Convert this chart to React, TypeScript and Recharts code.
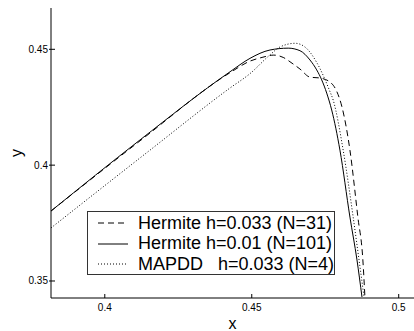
import React from 'react';
import { LineChart, Line, XAxis, YAxis } from 'recharts';

// Hermite h=0.01 (N=101) — solid
const fineX = [0.3817, 0.412, 0.4426, 0.4494, 0.4562, 0.4624, 0.4664, 0.4698, 0.4721, 0.4738, 0.4755, 0.4772, 0.48, 0.4834, 0.4858, 0.4875];
const fineY = [0.3802, 0.4109, 0.4403, 0.4461, 0.4497, 0.4505, 0.4494, 0.4454, 0.4411, 0.4368, 0.4311, 0.4238, 0.4065, 0.3776, 0.3591, 0.3431];

// Hermite h=0.033 (N=31) — dashed
const coarseX = [0.3817, 0.412, 0.4426, 0.4494, 0.4535, 0.4575, 0.4607, 0.4637, 0.4664, 0.4698, 0.4732, 0.4766, 0.479, 0.4807, 0.4834, 0.4861, 0.4878, 0.4885];
const coarseY = [0.3802, 0.4105, 0.4399, 0.4449, 0.4465, 0.4475, 0.4465, 0.444, 0.4415, 0.438, 0.4376, 0.4359, 0.4316, 0.4251, 0.4065, 0.3776, 0.3591, 0.3431];

// MAPDD h=0.033 (N=4) — dotted
const mapddX = [0.3817, 0.4154, 0.4426, 0.4494, 0.4562, 0.4596, 0.4648, 0.4681, 0.4722, 0.4764, 0.4777, 0.4811, 0.4845, 0.4865, 0.4882];
const mapddY = [0.3729, 0.4065, 0.4333, 0.4395, 0.4476, 0.451, 0.4526, 0.451, 0.4441, 0.4324, 0.4281, 0.4065, 0.3776, 0.3591, 0.3431];

const xTicks = [0.4, 0.45, 0.5];
const yTicks = [0.35, 0.4, 0.45];

const seriesNames = ['Hermite h=0.033 (N=31)', 'Hermite h=0.01 (N=101)', 'MAPDD   h=0.033 (N=4)'];
const dashes = ['6 4', undefined, '1 2'];

const zip = (xs: number[], ys: number[]) => xs.map((x, i) => ({ x, y: ys[i] }));
const coarseData = zip(coarseX, coarseY);
const fineData = zip(fineX, fineY);
const mapddData = zip(mapddX, mapddY);

const FONT = '"Liberation Sans", Arial, Helvetica, sans-serif';

const BottomTick = (props: any) => {
  const { x, y, payload } = props;
  return (
    <g>
      <line x1={x} x2={x} y1={y} y2={y - 4} stroke="#000" />
      <text x={x} y={y + 13} textAnchor="middle" fontSize={10} fontFamily={FONT} fill="#000">
        {payload.value}
      </text>
    </g>
  );
};

const TopTick = (props: any) => {
  const { x, y } = props;
  return <line x1={x} x2={x} y1={y} y2={y + 4} stroke="#000" />;
};

const LeftTick = (props: any) => {
  const { x, y, payload } = props;
  return (
    <g>
      <line x1={x - 2} x2={x + 4} y1={y} y2={y} stroke="#000" />
      <text x={x - 3} y={y} dy={3.5} textAnchor="end" fontSize={10} fontFamily={FONT} fill="#000">
        {payload.value}
      </text>
    </g>
  );
};

// legend box drawn over the plot, like the original's inset legend
const LegendBox = () => (
  <div
    style={{
      position: 'absolute',
      left: 87,
      top: 211,
      width: 246,
      height: 62,
      border: '1px solid #333',
      background: '#fff',
      fontFamily: FONT,
      fontSize: 18,
      color: '#000',
    }}
  >
    {seriesNames.map((name, i) => (
      <div key={name} style={{ display: 'flex', alignItems: 'center', height: 20.5, marginTop: i === 0 ? 1 : 0 }}>
        <svg width={50} height={20} style={{ flex: 'none' }}>
          <line x1={10} x2={40} y1={10} y2={10} stroke="#000" strokeWidth={1} strokeDasharray={dashes[i]} />
        </svg>
        <span style={{ whiteSpace: 'pre' }}>{name}</span>
      </div>
    ))}
  </div>
);

export default function App() {
  return (
    <div style={{ position: 'absolute', left: 0, top: 0, width: 414, height: 331, background: '#fff' }}>
      <LineChart width={414} height={331} margin={{ top: 8, right: 0, bottom: 0, left: 0 }}>
        <XAxis
          dataKey="x"
          type="number"
          domain={[0.3817, 0.5052]}
          allowDataOverflow
          ticks={xTicks}
          tick={<BottomTick />}
          tickLine={false}
          tickSize={0}
          tickMargin={0}
          height={33}
          axisLine={{ stroke: '#000' }}
          label={{ value: 'x', position: 'insideBottom', offset: 2, fontSize: 16, fontFamily: FONT, fill: '#000' }}
        />
        <XAxis
          xAxisId="top"
          dataKey="x"
          type="number"
          orientation="top"
          domain={[0.3817, 0.5052]}
          allowDataOverflow
          ticks={xTicks}
          tick={<TopTick />}
          tickLine={false}
          tickSize={0}
          tickMargin={0}
          height={0}
          axisLine={{ stroke: '#000' }}
        />
        <YAxis
          dataKey="y"
          type="number"
          domain={[0.34266, 0.46783]}
          allowDataOverflow
          ticks={yTicks}
          tick={<LeftTick />}
          tickLine={false}
          tickSize={0}
          tickMargin={0}
          width={51}
          axisLine={{ stroke: '#000' }}
          label={{ value: 'y', angle: -90, position: 'insideLeft', offset: 16, dy: 4, fontSize: 16, fontFamily: FONT, fill: '#000' }}
        />
        <Line data={coarseData} dataKey="y" type="monotone" stroke="#000" strokeWidth={1} strokeDasharray="6 4" dot={false} isAnimationActive={false} />
        <Line data={fineData} dataKey="y" type="monotone" stroke="#000" strokeWidth={1} dot={false} isAnimationActive={false} />
        <Line data={mapddData} dataKey="y" type="monotone" stroke="#000" strokeWidth={1} strokeDasharray="1 2" dot={false} isAnimationActive={false} />
      </LineChart>
      <LegendBox />
    </div>
  );
}
